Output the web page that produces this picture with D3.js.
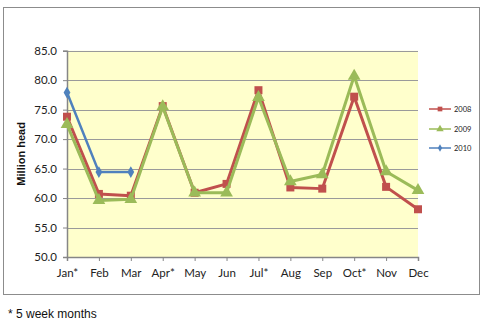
<!DOCTYPE html>
<html><head><meta charset="utf-8">
<script src="https://cdn.jsdelivr.net/npm/d3@7"></script>
<style>body{margin:0;background:#fff}svg{display:block}</style>
</head><body>
<script>
const months = ["Jan*","Feb","Mar","Apr*","May","Jun","Jul*","Aug","Sep","Oct*","Nov","Dec"];
const s2008 = [73.8,60.7,60.4,75.6,60.9,62.4,78.3,61.8,61.6,77.2,61.9,58.1];
const s2009 = [72.5,59.6,59.8,75.5,60.9,60.9,77.1,62.8,64.0,80.7,64.5,61.3];
const s2010 = [77.9,64.4,64.4];
const yTicks = [50,55,60,65,70,75,80,85];
const seriesNames = ["2008","2009","2010"];

const W=484,H=323;
const svg=d3.select("body").append("svg").attr("width",W).attr("height",H);
svg.append("rect").attr("x",3.5).attr("y",7.5).attr("width",476).attr("height",287)
  .attr("fill","#fff").attr("stroke","#8c8c8c").attr("stroke-width",1);

const L=67,R=418,T=50.7,B=257;
const x=d3.scalePoint().domain(months).range([L,R]).padding(0);
const y=d3.scaleLinear().domain([50,85]).range([B,T]);

svg.append("rect").attr("x",L).attr("y",T).attr("width",R-L).attr("height",B-T).attr("fill","#FFFFCC");
// grid
svg.append("g").selectAll("line").data(yTicks.filter(d=>d>50)).join("line")
  .attr("x1",L).attr("x2",R).attr("y1",d=>Math.round(y(d))+0.5).attr("y2",d=>Math.round(y(d))+0.5)
  .attr("stroke","#9a9a9a").attr("stroke-width",1.2);

const yAxis=svg.append("g").attr("transform",`translate(${L},0)`)
  .call(d3.axisLeft(y).tickValues(yTicks).tickFormat(d3.format(".1f")).tickSize(4).tickPadding(6));
const xAxis=svg.append("g").attr("transform",`translate(0,${B})`)
  .call(d3.axisBottom(x).tickSize(4).tickPadding(8));
[yAxis,xAxis].forEach(g=>{
  g.select(".domain").attr("stroke","#868686").attr("stroke-width",1.5);
  g.selectAll(".tick line").attr("stroke","#868686").attr("stroke-width",1);
  g.selectAll("text").attr("font-family","Lato, 'Open Sans', sans-serif").attr("font-size",11.5).attr("fill","#222");
});

svg.append("text").attr("transform",`translate(25,${(T+B)/2}) rotate(-90)`)
  .attr("text-anchor","middle").attr("font-family","'Liberation Sans', Arial, sans-serif")
  .attr("font-weight","bold").attr("font-size",11).attr("fill","#111").text("Million head");

const cols=["#C0504D","#9BBB59","#4F81BD"];
const data=[s2008,s2009,s2010];
const sym=[d3.symbolSquare,d3.symbolTriangle,d3.symbolDiamond];
const symSize=[64,70,40];
const line=d3.line().x((d,i)=>x(months[i])).y(d=>y(d));
data.forEach((s,k)=>{
  svg.append("path").datum(s).attr("d",line).attr("fill","none")
    .attr("stroke",cols[k]).attr("stroke-width",k===2?2.5:3).attr("stroke-linejoin","round");
  svg.append("g").selectAll("path").data(s).join("path")
    .attr("transform",(d,i)=>`translate(${x(months[i])},${y(d)})`)
    .attr("d",d3.symbol(sym[k],symSize[k])).attr("fill",cols[k]);
});

// legend
const lg=svg.append("g");
seriesNames.forEach((n,k)=>{
  const yy=[109,129,148][k];
  lg.append("line").attr("x1",429).attr("x2",451).attr("y1",yy).attr("y2",yy).attr("stroke",cols[k]).attr("stroke-width",1.5);
  lg.append("path").attr("transform",`translate(440,${yy})`).attr("d",d3.symbol(sym[k],[22,24,16][k])).attr("fill",cols[k]);
  lg.append("text").attr("x",454).attr("y",yy+3).attr("font-family","Lato, sans-serif").attr("font-size",7.5).attr("fill","#222").text(n);
});

svg.append("text").attr("x",8).attr("y",318).attr("font-family","'Liberation Sans', Arial, sans-serif")
  .attr("font-size",12).attr("fill","#111").text("* 5 week months");
</script>
</body></html>
